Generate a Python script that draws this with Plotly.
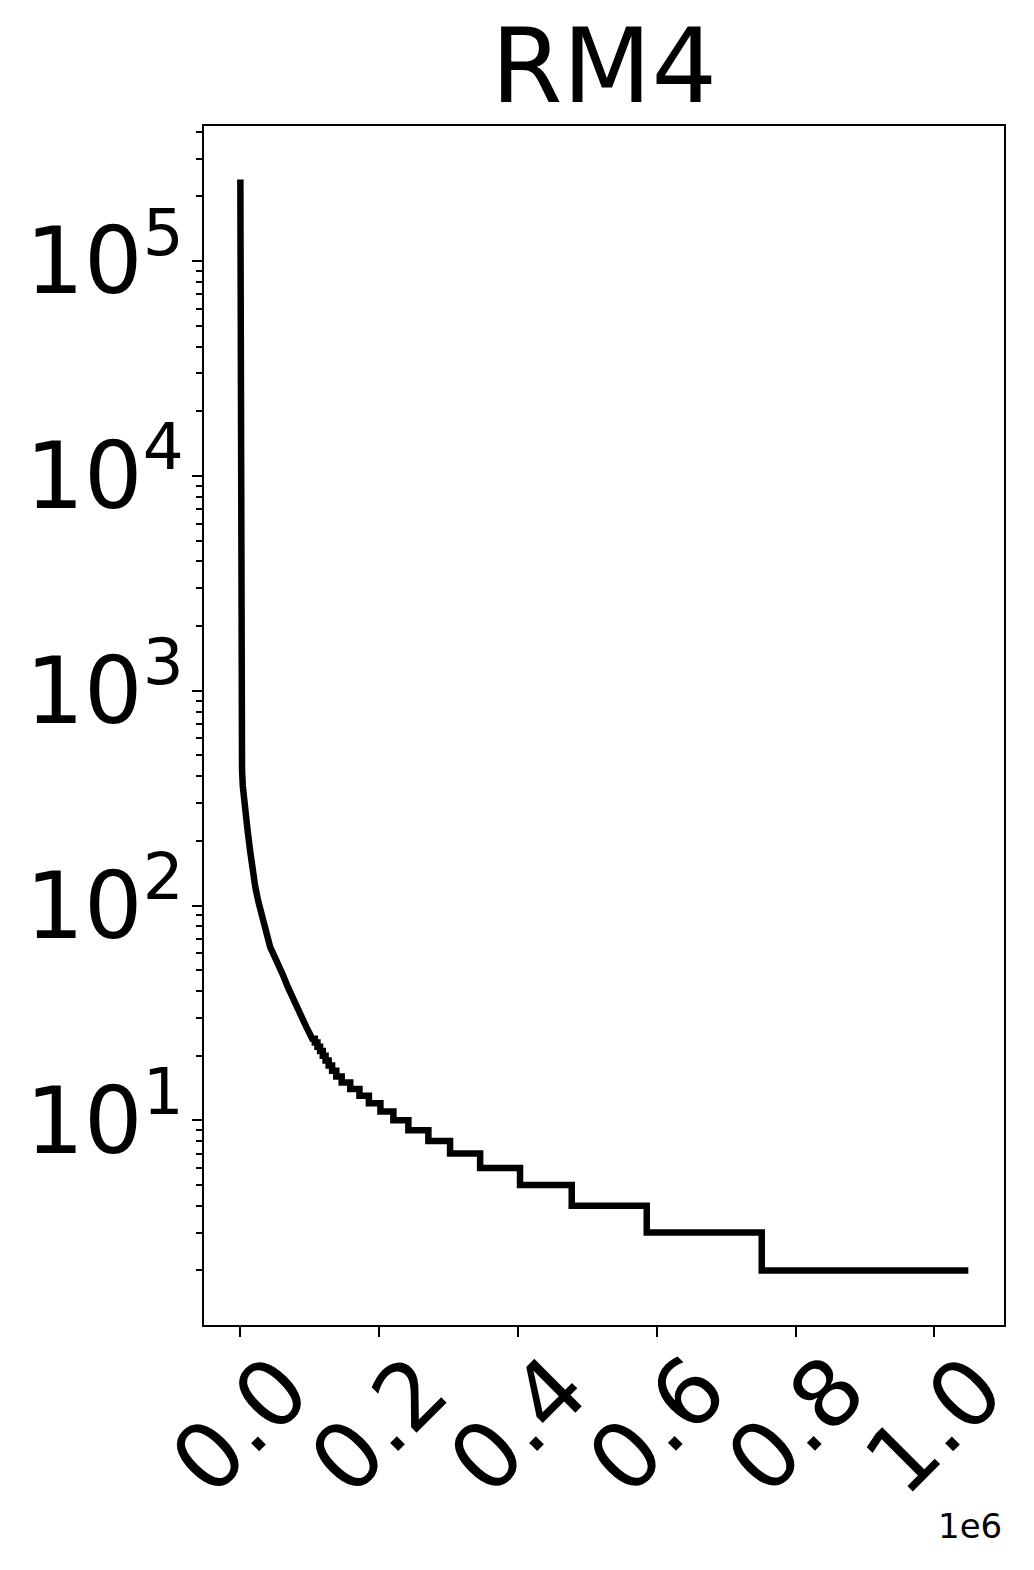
import plotly.graph_objects as go

title = "RM4"

# head of the sorted counts: rank -> count
head_ranks = [0, 20, 100, 300, 700, 1200, 1700, 2400, 3500, 5000, 7000,
              10000, 14000, 18000, 21500, 26000, 32000, 38000, 43000, 48000,
              53000, 57000, 62000, 68000, 73000, 78000, 84000, 90000, 95000,
              100000]
head_counts = [240000, 40000, 8000, 2500, 1100, 720, 540, 430, 360, 310, 275,
               230, 180, 140, 122, 104, 86, 72, 64, 59,
               55, 52, 47, 42, 38.5, 35.5, 32, 29.5, 27.2,
               25.3]

# tail: integer count levels and the rank where each level starts
level_counts = [24, 23, 22, 21, 20, 19, 18, 17, 16, 15, 14, 13, 12, 11, 10,
                9, 8, 7, 6, 5, 4, 3, 2]
level_starts = [103500, 107300, 111100, 114900, 118800, 122800, 127200,
                132200, 138200, 146000, 158300, 171600, 185200, 201800,
                220500, 242100, 270900, 302200, 345500, 403000, 477500,
                585600, 751300]
last_rank = 1049000

x_ticks = [0, 200000, 400000, 600000, 800000, 1000000]
x_tick_text = ["0.0", "0.2", "0.4", "0.6", "0.8", "1.0"]
y_ticks = [10, 100, 1000, 10000, 100000]
y_tick_text = ["10<sup>1</sup>", "10<sup>2</sup>", "10<sup>3</sup>",
               "10<sup>4</sup>", "10<sup>5</sup>"]

# build the step line
xs = list(head_ranks)
ys = list(head_counts)
ends = level_starts[1:] + [last_rank]
for c, s, e in zip(level_counts, level_starts, ends):
    xs += [s, e]
    ys += [c, c]

FONT = "DejaVu Sans"
W, H = 1026, 1562  # page body has an 8px margin

fig = go.Figure()
fig.add_trace(go.Scatter(
    x=xs, y=ys, mode="lines",
    line=dict(color="black", width=6.5),
    showlegend=False,
))

# rotated x tick labels (matplotlib style, centred on tick)
for v, t in zip(x_ticks, x_tick_text):
    fig.add_annotation(x=v, xref="x", y=-0.0837, yref="paper",
                       text=t, textangle=-45, showarrow=False,
                       xanchor="center", yanchor="middle",
                       font=dict(family=FONT, size=92, color="black"))

# offset text
fig.add_annotation(x=1, xref="paper", y=-0.168, yref="paper",
                   text="1e6", showarrow=False,
                   xanchor="right", yanchor="middle",
                   font=dict(family=FONT, size=34, color="black"))

minor_vals = [m * 10 ** k for k in range(0, 6) for m in range(2, 10)]

fig.update_layout(
    template="none",
    width=W, height=H,
    paper_bgcolor="white", plot_bgcolor="white",
    margin=dict(l=196, r=30, t=118, b=245),
    title=dict(text=title, x=0.5, xref="paper", xanchor="center",
               y=1 - 58 / H, yref="container", yanchor="middle",
               font=dict(family=FONT, size=103, color="black")),
    xaxis=dict(
        range=[-52400, 1100400], showgrid=False, zeroline=False,
        tickmode="array", tickvals=x_ticks, showticklabels=False,
        ticks="outside", ticklen=10, tickwidth=2, tickcolor="black",
        showline=True, linecolor="black", linewidth=2, mirror=True,
        automargin=False,
    ),
    yaxis=dict(
        type="log", range=[0.047, 5.629], showgrid=False, zeroline=False,
        tickmode="array", tickvals=y_ticks, ticktext=y_tick_text,
        ticks="outside", ticklen=10, tickwidth=2, tickcolor="black",
        tickfont=dict(family=FONT, size=92, color="black"),
        ticklabelstandoff=-10,
        showline=True, linecolor="black", linewidth=2, mirror=True,
        minor=dict(tickmode="array", tickvals=minor_vals, ticks="outside",
                   ticklen=6, tickwidth=1.5, tickcolor="black",
                   showgrid=False),
        automargin=False,
    ),
)

fig.write_html("out.html")
